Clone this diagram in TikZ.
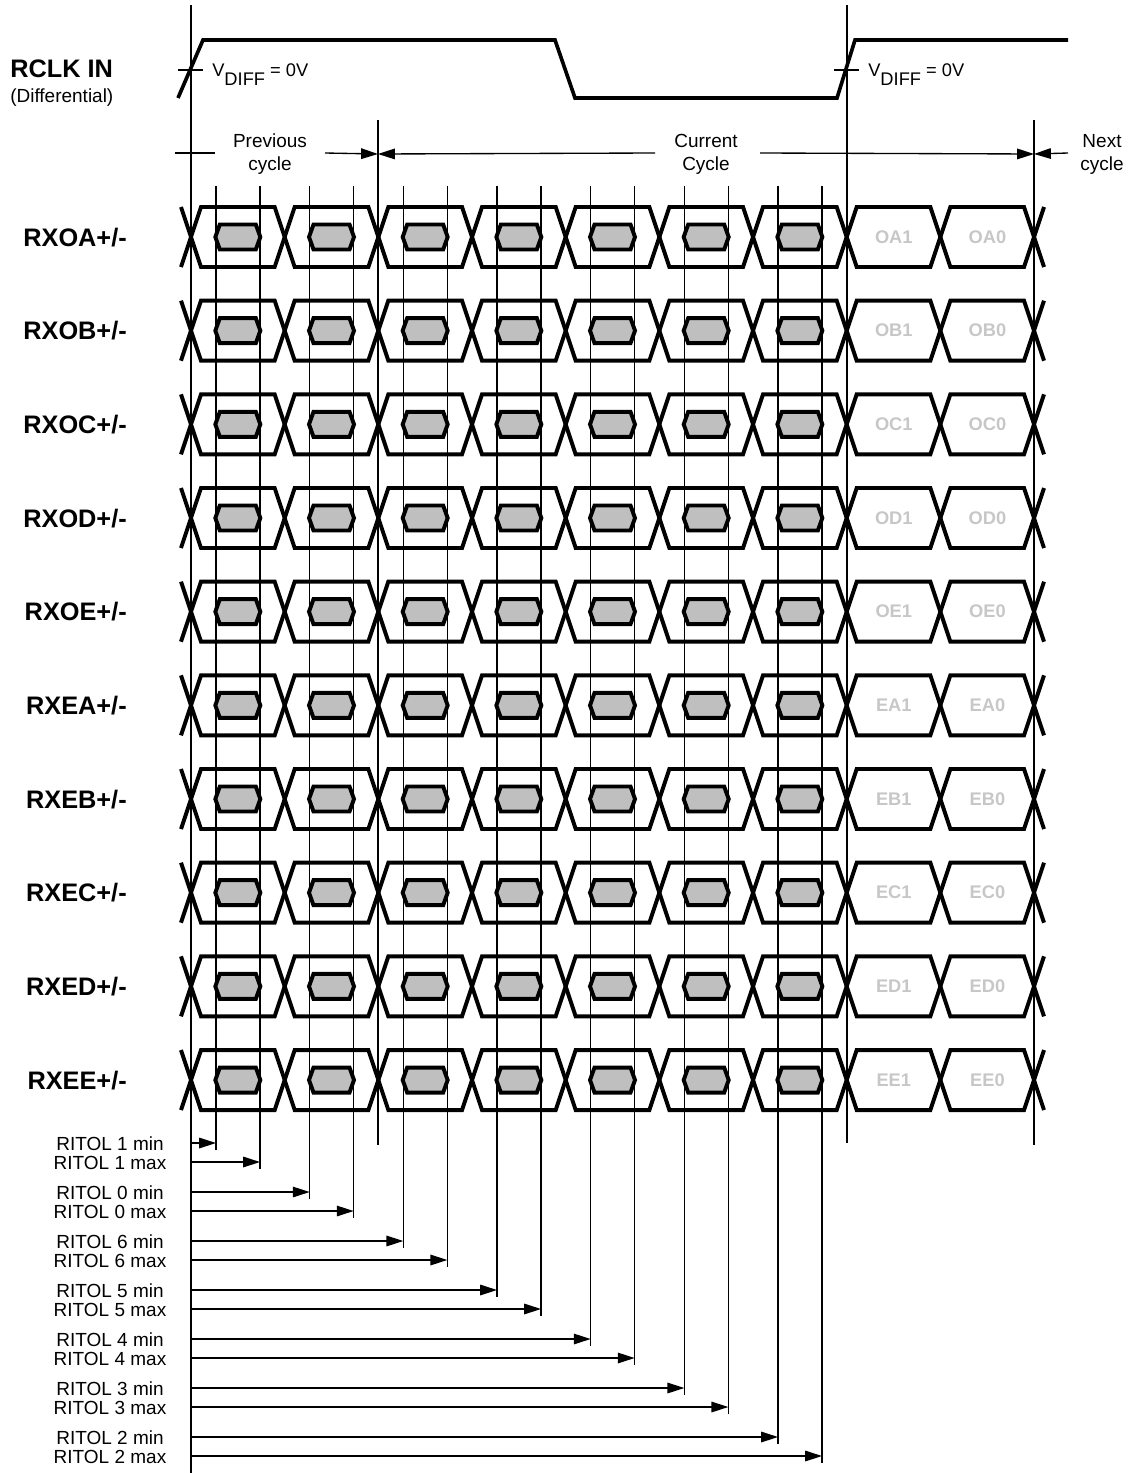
\documentclass[tikz,border=0pt]{standalone}
\usepackage{fontspec}
\setmainfont{Liberation Sans}
\usetikzlibrary{arrows.meta}
\colorlet{eyefill}{black!25}
\colorlet{bitgray}{black!22}

\tikzset{
  sig/.style={line width=2.8pt, line join=miter},
  guide/.style={line width=0.95pt},
  tolarr/.style={guide, -{Triangle[length=12pt, width=7.5pt]}},
  lbl/.style={font=\fontsize{18}{20}\selectfont\bfseries, inner sep=0pt},
  txt/.style={font=\fontsize{13.5}{16.3}\selectfont, inner sep=0pt},
}

\begin{document}
\begin{tikzpicture}[x=0.025cm, y=-0.025cm]
    \useasboundingbox (0,0) rectangle (1128,1473);

    % Reference lines
    \coordinate (ref0) at (191,5);
    \coordinate (ref1) at (378,120);
    \coordinate (ref2) at (847,5);
    \coordinate (ref3) at (1034,120);
    \draw[guide] (ref0) -- (191,1473);
    \draw[guide] (ref1) -- (378,1145);
    \draw[guide] (ref2) -- (847,1143);
    \draw[guide] (ref3) -- (1034,1145);

    % Clock
    \node[lbl, anchor=base west] (clk) at (10,77) {RCLK IN};
    \node[txt, anchor=base west] (clkdiff) at (10,102) {(Differential)};
    \draw[sig, line width=2.6pt] (178,98) -- (203,40) -- (555,40) -- (575,98) -- (837,98) -- (855,40) -- (1068,40);
    \draw[guide] (178,70) -- (203,70);
    \draw[guide] (834,70) -- (859,70);
    \node[txt, font=\fontsize{13}{15}\selectfont, anchor=base west] (vdiff1) at (212,76) {V\raisebox{-7pt}{DIFF} = 0V};
    \node[txt, font=\fontsize{13}{15}\selectfont, anchor=base west] (vdiff2) at (868,76) {V\raisebox{-7pt}{DIFF} = 0V};

    % Cycle markers
    \node[txt, align=center] (prev) at (270,154) {Previous\\cycle};
    \node[txt, align=center] (curr) at (706,154) {Current\\Cycle};
    \node[txt, align=center] (next) at (1102,154) {Next\\cycle};
    \draw[guide] (175,153) -- (215,153);
    \draw[tolarr] (325,153) -- (ref1 |- prev);
    \draw[tolarr] (655,153) -- (ref1 |- prev);
    \draw[tolarr] (760,153) -- (ref3 |- curr);
    \draw[tolarr] (1068,153) -- (ref3 |- next);

    % Sampling windows
    \foreach \tol [count=\i from 0] in {1,0,6,5,4,3,2} {
      \pgfmathsetmacro{\xa}{191+93.67*\i}
      \pgfmathsetmacro{\ymin}{1143+49*\i}
      \pgfmathsetmacro{\ymax}{1162+49*\i}
      \coordinate (min\tol) at (\xa+25,\ymin);
      \coordinate (max\tol) at (\xa+69,\ymax);
      \draw[guide] (\xa+25,186) -- (\xa+25,\ymin+7);
      \draw[guide] (\xa+69,186) -- (\xa+69,\ymax+7);
      \node[txt, anchor=base] (lmin\tol) at (110,\ymin+7) {RITOL \tol{} min};
      \node[txt, anchor=base] (lmax\tol) at (110,\ymax+7) {RITOL \tol{} max};
      \draw[tolarr] (ref0 |- min\tol) -- (min\tol);
      \draw[tolarr] (ref0 |- max\tol) -- (max\tol);
    }

    % Data rows
    \foreach \sig [count=\n from 0] in {OA,OB,OC,OD,OE,EA,EB,EC,ED,EE} {
      \pgfmathsetmacro{\yc}{237+93.67*\n}
      \node[lbl, anchor=base east] (row\sig) at (127,\yc+9) {RX\sig+/-};
      \draw[sig] (181,\yc-30) -- (191,\yc) (181,\yc+30) -- (191,\yc);
      \draw[sig] (1044,\yc-30) -- (1034,\yc) (1044,\yc+30) -- (1034,\yc);
      \foreach \i in {0,...,8} {
        \pgfmathsetmacro{\xa}{191+93.67*\i}
        \draw[sig] (\xa,\yc) -- ++(10,-30) -- ++(73.67,0) -- ++(10,30)
          -- ++(-10,30) -- ++(-73.67,0) -- cycle;
      }
      \foreach \i in {0,...,6} {
        \pgfmathsetmacro{\xm}{191+93.67*\i+46.83}
        \draw[sig, fill=eyefill] (\xm-22.5,\yc) -- (\xm-18,\yc-12.5)
          -- (\xm+18,\yc-12.5) -- (\xm+22.5,\yc) -- (\xm+18,\yc+12.5) -- (\xm-18,\yc+12.5) -- cycle;
      }
      \node[txt, font=\fontsize{13}{15}\selectfont\bfseries, text=bitgray] (bit\sig1) at (893.8,\yc) {\sig1};
      \node[txt, font=\fontsize{13}{15}\selectfont\bfseries, text=bitgray] (bit\sig0) at (987.5,\yc) {\sig0};
    }
\end{tikzpicture}
\end{document}
